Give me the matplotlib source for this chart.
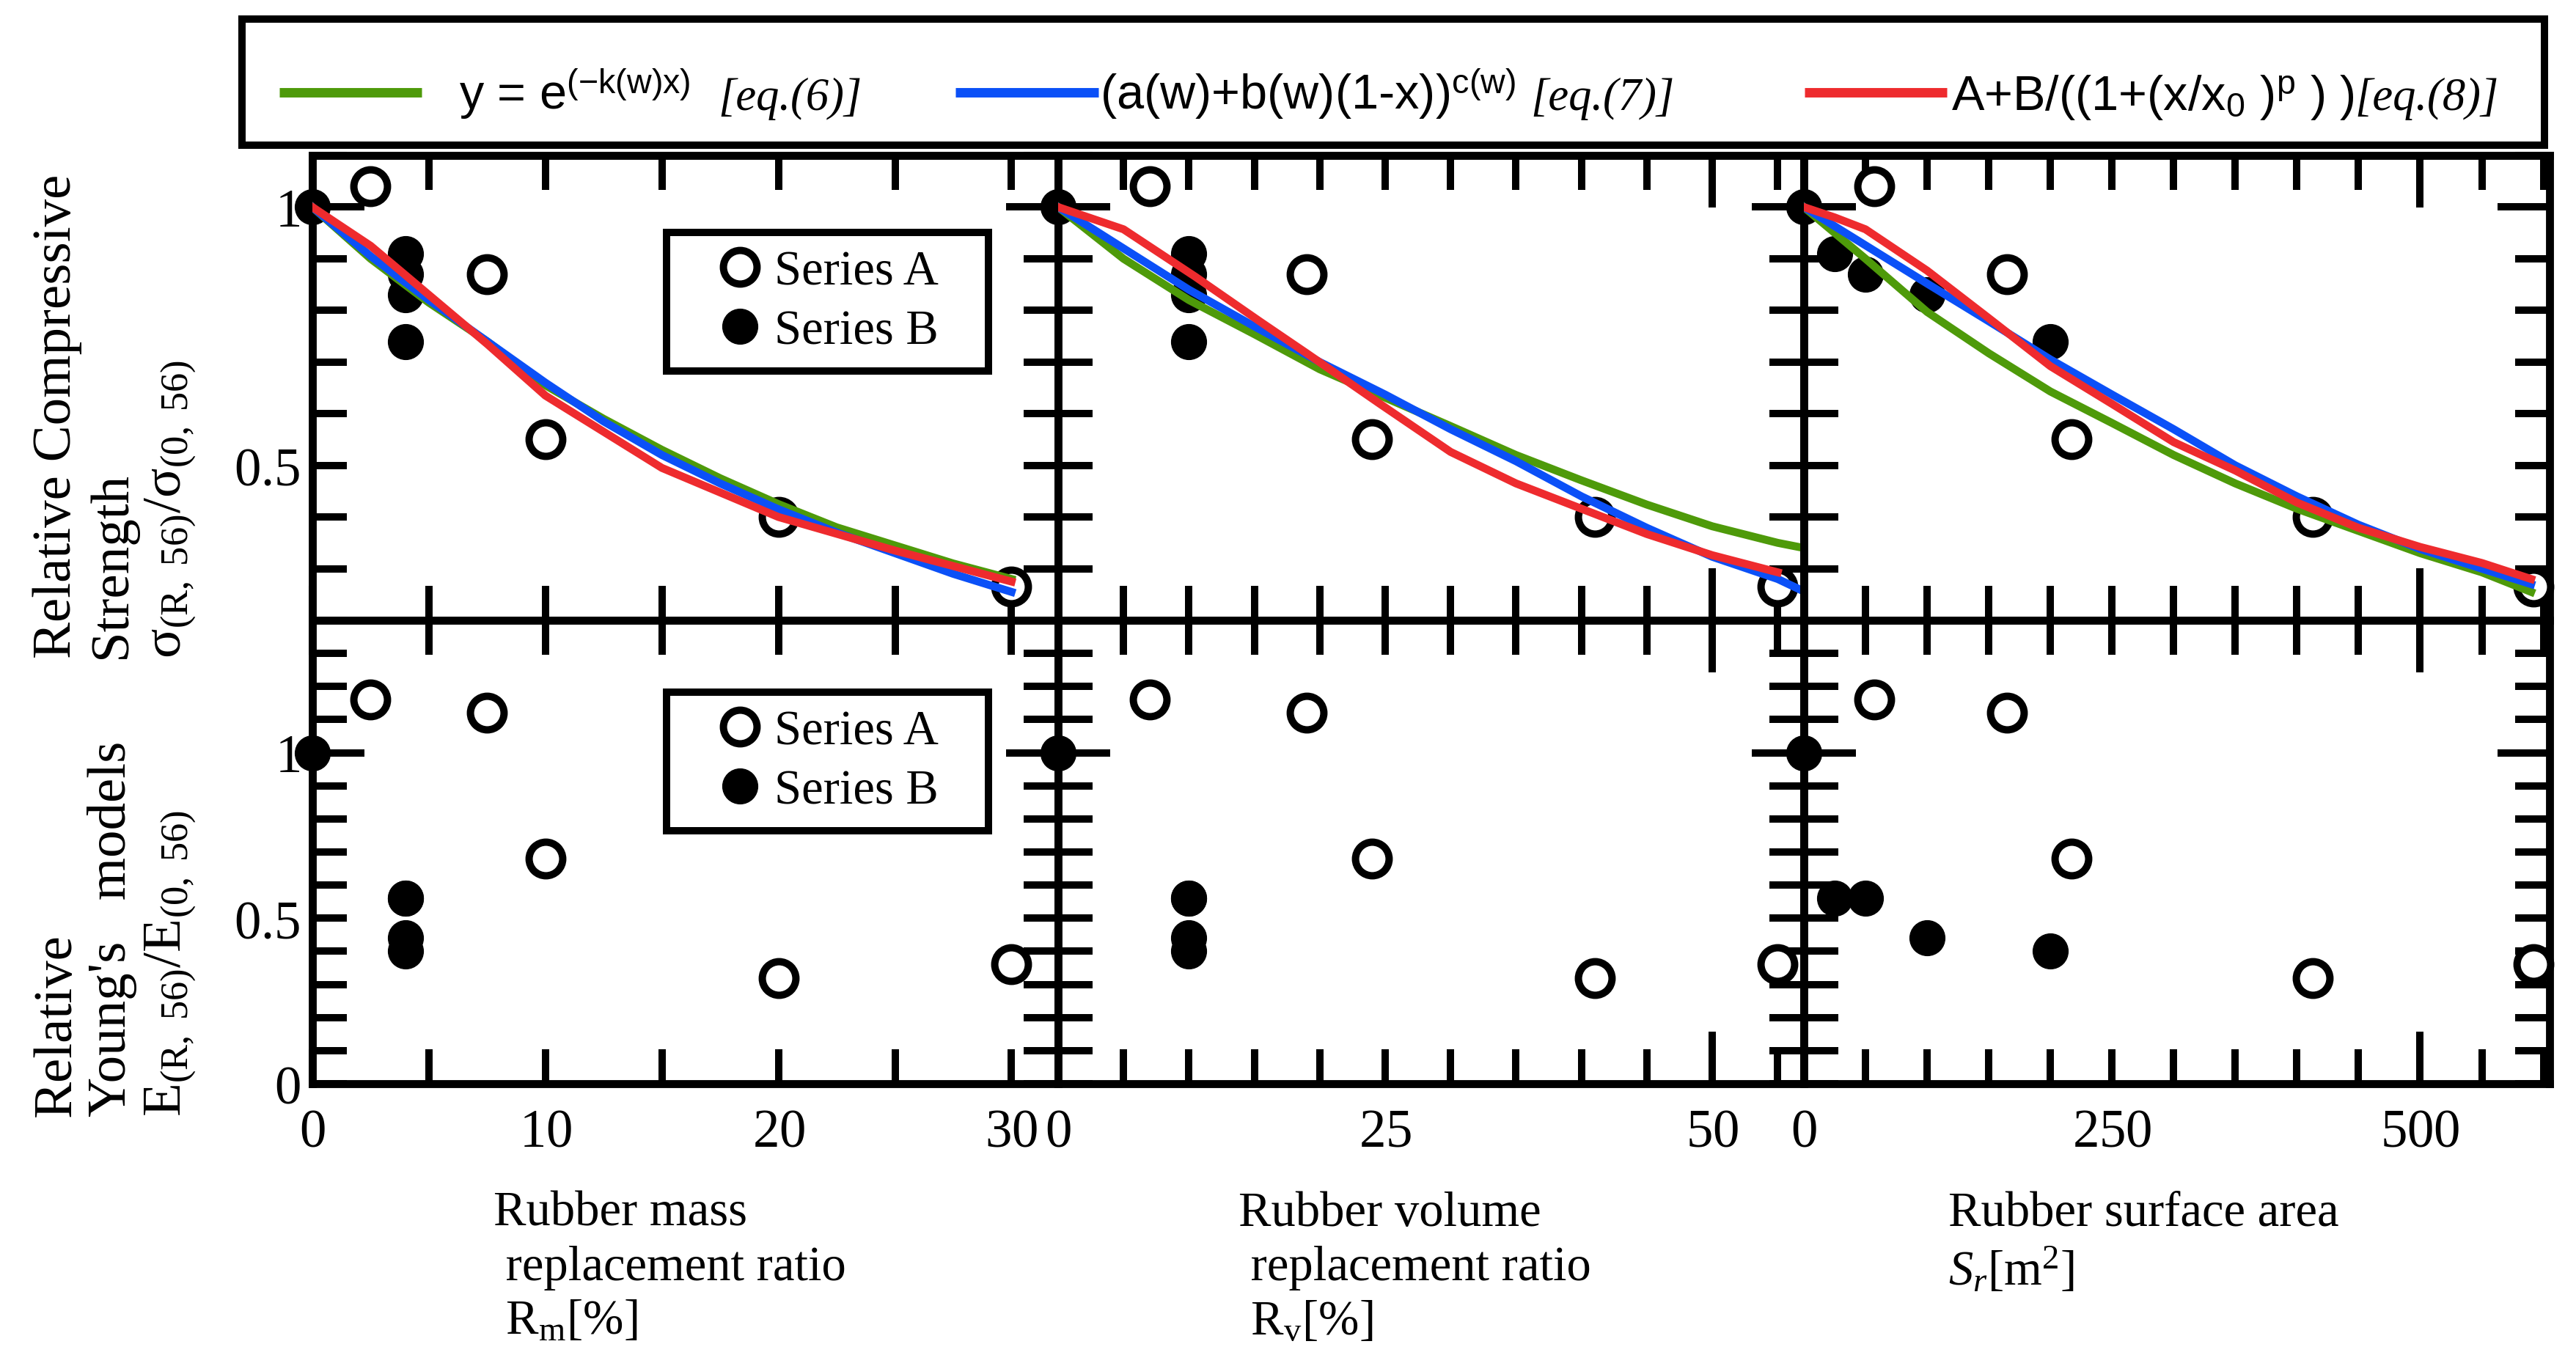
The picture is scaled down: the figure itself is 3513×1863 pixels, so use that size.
import numpy as np
import matplotlib
matplotlib.use('Agg')
import matplotlib.pyplot as plt
from matplotlib.ticker import FixedLocator, FuncFormatter
from matplotlib.offsetbox import TextArea, HPacker, AnnotationBbox

plt.rcParams['font.family'] = ['Liberation Serif', 'DejaVu Serif']
plt.rcParams['mathtext.fontset'] = 'custom'
plt.rcParams['mathtext.rm'] = 'Liberation Serif'
plt.rcParams['mathtext.it'] = 'Liberation Serif:italic'
plt.rcParams['mathtext.sf'] = 'Liberation Sans'

# ---- measured points ----
mass_A = [2.5, 7.5, 10, 20, 30]
vol_A = [7, 19, 24, 41, 55]
area_A = [57, 165, 217, 413, 592]
sig_A = [1.04, 0.87, 0.55, 0.40, 0.265]
E_A = [1.16, 1.12, 0.68, 0.32, 0.36]

mass_B = [0, 4, 4, 4, 4]
vol_B = [0, 10, 10, 10, 10]
area_B = [0, 25, 50, 100, 200]
sig_B = [1.0, 0.91, 0.87, 0.83, 0.74]
E_B = [1.0, 0.56, 0.56, 0.44, 0.40]

# ---- fitted curves ----
mass_x = [0, 2.5, 5, 7.5, 10, 12.5, 15, 17.5, 20, 22.5, 25, 27.5, 30]
mass_eq6 = [1.0, 0.90, 0.815, 0.74, 0.655, 0.59, 0.53, 0.475, 0.425, 0.38, 0.345, 0.31, 0.28]
mass_eq7 = [1.0, 0.905, 0.82, 0.74, 0.66, 0.585, 0.52, 0.465, 0.415, 0.37, 0.33, 0.29, 0.255]
mass_x8 = [0, 2.5, 5, 7.5, 10, 15, 20, 25, 30]
mass_eq8 = [1.0, 0.925, 0.83, 0.735, 0.635, 0.495, 0.40, 0.335, 0.275]

vol_x = [0, 5, 10, 15, 20, 25, 30, 35, 40, 45, 50, 55, 57]
vol_eq6 = [1.0, 0.90, 0.82, 0.754, 0.686, 0.631, 0.576, 0.52, 0.471, 0.424, 0.382, 0.35, 0.34]
vol_eq7 = [1.0, 0.92, 0.84, 0.769, 0.70, 0.637, 0.57, 0.508, 0.44, 0.379, 0.323, 0.28, 0.256]
vol_x8 = [0, 5, 10.5, 15.4, 19, 24.6, 30, 35, 40, 45, 50, 55]
vol_eq8 = [1.0, 0.957, 0.865, 0.779, 0.717, 0.619, 0.526, 0.465, 0.416, 0.367, 0.326, 0.293]

area_x = [0, 25, 50, 100, 150, 200, 250, 300, 350, 400, 450, 500, 550, 590]
area_eq6 = [1.0, 0.95, 0.90, 0.797, 0.717, 0.643, 0.582, 0.52, 0.465, 0.416, 0.373, 0.33, 0.293, 0.255]
area_eq7 = [1.0, 0.963, 0.926, 0.852, 0.779, 0.705, 0.637, 0.57, 0.50, 0.44, 0.385, 0.338, 0.30, 0.27]
area_eq8 = [1.0, 0.98, 0.957, 0.877, 0.785, 0.692, 0.619, 0.545, 0.49, 0.428, 0.379, 0.342, 0.311, 0.28]

GREEN = '#4e9a0a'
BLUE = '#0b50f7'
RED = '#ee2b2e'

W, H = 3513, 1864
fig = plt.figure(figsize=(W / 300, H / 300), dpi=300)
fig.patch.set_facecolor('white')


def fmt(d):
    # tick labels only at the listed values
    def f(v, p):
        for k, s in d.items():
            if abs(k - v) < 1e-6:
                return r'$\mathrm{%s}$' % s
        return ''
    return FuncFormatter(f)


cols = [
    dict(xA=mass_A, xB=mass_B, xlim=(0, 32), major=[0, 10, 20, 30],
         minor=[0, 5, 10, 15, 20, 25, 30], lab={0: '0', 10: '10', 20: '20', 30: '30'},
         long=False, curves=[(mass_x, mass_eq6, GREEN), (mass_x, mass_eq7, BLUE),
                             (mass_x8, mass_eq8, RED)]),
    dict(xA=vol_A, xB=vol_B, xlim=(0, 57), major=[50],
         minor=list(range(0, 60, 5)), lab={0: '0', 25: '25', 50: '50'},
         long=True, curves=[(vol_x, vol_eq6, GREEN), (vol_x, vol_eq7, BLUE),
                            (vol_x8, vol_eq8, RED)]),
    dict(xA=area_A, xB=area_B, xlim=(0, 605), major=[500],
         minor=list(range(0, 650, 50)), lab={0: '0', 250: '250', 500: '500'},
         long=True, curves=[(area_x, area_eq6, GREEN), (area_x, area_eq7, BLUE),
                            (area_x, area_eq8, RED)]),
]
rows = [
    dict(yA=sig_A, yB=sig_B, ylim=(0.2, 1.1), minor=np.arange(2, 12) / 10,
         lab={0.5: '0.5', 1.0: '1'}, bottom=1 - 847 / H, height=634 / H, leg_top=0.834),
    dict(yA=E_A, yB=E_B, ylim=(0, 1.4), minor=np.arange(0, 15) / 10,
         lab={0.0: '0', 0.5: '0.5', 1.0: '1'}, bottom=1 - 1479 / H, height=632 / H, leg_top=0.845),
]

pw = 1017 / W
for r, row in enumerate(rows):
    for c, col in enumerate(cols):
        ax = fig.add_axes([(426 + c * 1017) / W, row['bottom'], pw, row['height']])
        ax.plot(col['xA'], row['yA'], 'o', ms=11, mfc='white', mec='k', mew=2.4,
                label='Series A', clip_on=False, zorder=2.6)
        ax.plot(col['xB'], row['yB'], 'o', ms=11.5, mfc='k', mec='k', mew=0.3,
                label='Series B', clip_on=False, zorder=2.6)
        if r == 0:
            for xs, ys, colr in col['curves']:
                ax.plot(xs, ys, color=colr, lw=2.6, zorder=3)
        ax.set_xlim(*col['xlim'])
        ax.set_ylim(*row['ylim'])

        ax.xaxis.set_major_locator(FixedLocator(col['major']))
        ax.xaxis.set_minor_locator(FixedLocator(col['minor']))
        ax.xaxis.set_major_formatter(fmt(col['lab']))
        ax.xaxis.set_minor_formatter(fmt(col['lab']))
        ax.yaxis.set_major_locator(FixedLocator([1.0]))
        ax.yaxis.set_minor_locator(FixedLocator(row['minor']))
        ax.yaxis.set_major_formatter(fmt(row['lab']))
        ax.yaxis.set_minor_formatter(fmt(row['lab']))

        ax.tick_params(axis='both', which='both', direction='in', top=True, right=True,
                       width=2.4, labelsize=17.5, color='k')
        ax.tick_params(axis='x', which='both', pad=8, labelbottom=(r == 1))
        ax.tick_params(axis='y', which='both', pad=4, labelleft=(c == 0))
        ax.tick_params(axis='both', which='minor', length=11.3)
        ax.tick_params(axis='x', which='major', length=17 if col['long'] else 11.3)
        ax.tick_params(axis='y', which='major', length=17)
        for s in ax.spines.values():
            s.set_linewidth(2.6)

        if c == 0:
            leg = ax.legend(loc='upper left',
                            bbox_to_anchor=(0.475, row['leg_top'] - 0.3, 0.4317, 0.3),
                            mode='expand',
                            prop=dict(family='Liberation Serif', size=16), frameon=True,
                            fancybox=False, edgecolor='k', framealpha=1, borderpad=0.35,
                            handlelength=2.3, handletextpad=-0.45, labelspacing=0.3,
                            borderaxespad=0, numpoints=1)
            leg.get_frame().set_linewidth(2.4)

# y-axis titles
fig.text(157 / W, 1 - 898 / H,
         'Relative Compressive\nStrength\n' + r'σ$_{\mathrm{(R,\ 56)}}$/σ$_{\mathrm{(0,\ 56)}}$',
         rotation=90, ha='center', va='bottom', multialignment='left', fontsize=18,
         linespacing=1.15)
fig.text(157 / W, 1 - 1523 / H,
         "Relative\nYoung's   models\n" + r'E$_{\mathrm{(R,\ 56)}}$/E$_{\mathrm{(0,\ 56)}}$',
         rotation=90, ha='center', va='bottom', multialignment='left', fontsize=18,
         linespacing=1.15)

# x-axis titles
xlabels = ['Rubber mass\n replacement ratio\n R$_{\\mathrm{m}}$[%]',
           'Rubber volume\n replacement ratio\n R$_{\\mathrm{v}}$[%]',
           'Rubber surface area\n$S_r$[m$^2$]']
for xpos, txt in zip([673, 1689, 2657], xlabels):
    fig.text(xpos / W, 1 - 1625 / H, txt, ha='left', va='top', fontsize=16, linespacing=1.27)

# top legend box
lax = fig.add_axes([330 / W, 1 - 199 / H, 3140 / W, 172 / H])
lax.set_xlim(0, 1)
lax.set_ylim(0, 1)
lax.set_xticks([])
lax.set_yticks([])
for s in lax.spines.values():
    s.set_linewidth(2.4)
handles = [(0.0162, 0.0780, GREEN), (0.3100, 0.3720, BLUE), (0.6787, 0.7404, RED)]
formulas = [r'y = e$^{\mathsf{(-k(w)x)}}$',
            r'(a(w)+b(w)(1-x))$^{\mathsf{c(w)}}$',
            r'A+B/((1+(x/x$_{\mathsf{0}}$ )$^{\mathsf{p}}$ ) )']
eqs = ['[eq.(6)]', '[eq.(7)]', '[eq.(8)]']
text_x = [0.0943, 0.3726, 0.7424]
gaps = [9, 5, 0]
for (x0, x1, colr), f, e, tx, g in zip(handles, formulas, eqs, text_x, gaps):
    lax.plot([x0, x1], [0.419, 0.419], color=colr, lw=3.1, solid_capstyle='butt')
    pack = HPacker(children=[
        TextArea(f, textprops=dict(fontsize=16, family='Liberation Sans')),
        TextArea(e, textprops=dict(fontsize=15, family='Liberation Serif', style='italic'))],
        align='baseline', pad=0, sep=g)
    ab = AnnotationBbox(pack, (tx, 0.19), xycoords=lax.transAxes, box_alignment=(0, 0),
                        frameon=False, pad=0)
    lax.add_artist(ab)

fig.savefig('out.png', dpi=300, facecolor='white')
